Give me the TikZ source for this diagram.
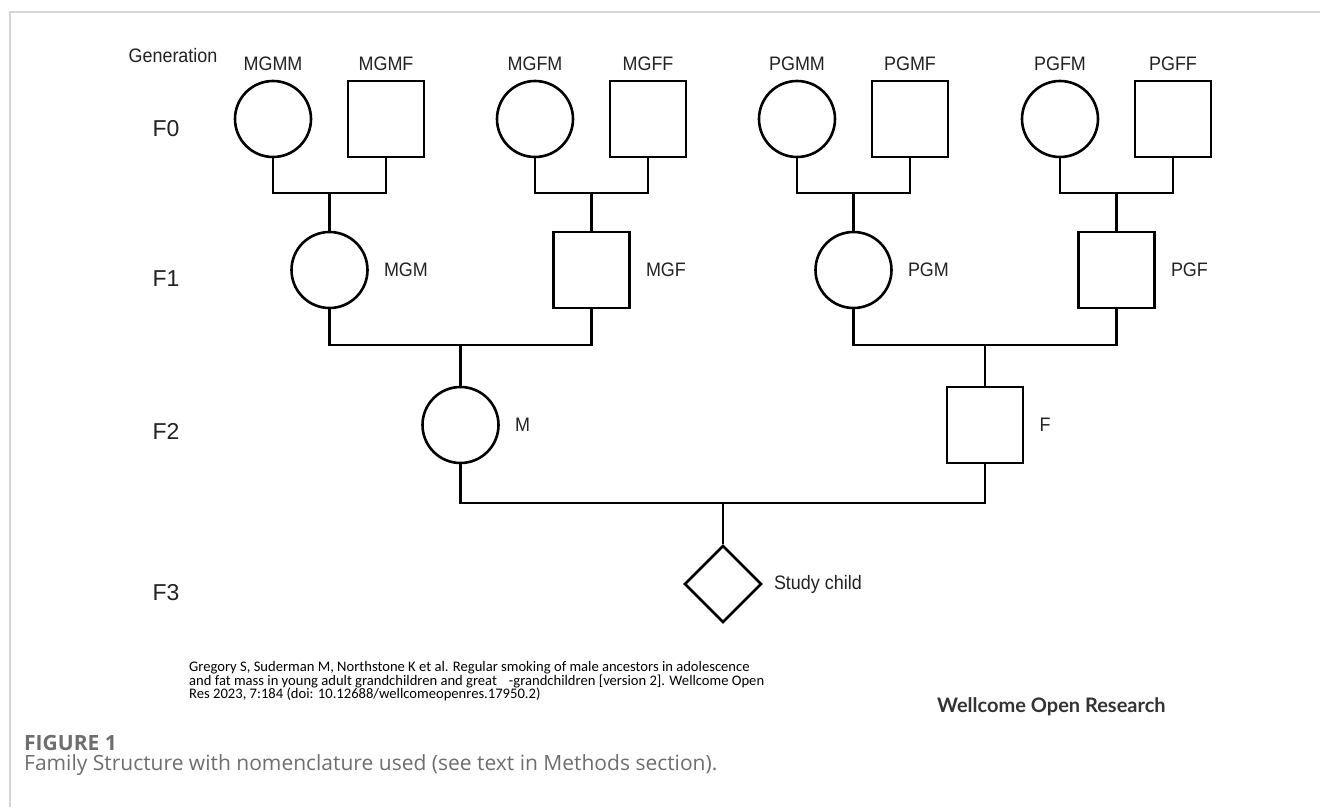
\documentclass[tikz,border=0pt]{standalone}
\usepackage{fontspec}
\setmainfont{Liberation Sans}[FakeStretch=0.92]
\newfontfamily\genfont{Liberation Sans}
\newfontfamily\citefont{Carlito}
\newfontfamily\capfont{Open Sans}
\newfontfamily\brandfont{Lato}
\usetikzlibrary{positioning,shapes.geometric}

\definecolor{framegray}{HTML}{D6D6D6}
\definecolor{capgray}{HTML}{6E6E6E}
\definecolor{brandgray}{HTML}{333333}
\definecolor{inkgray}{HTML}{222222}

\tikzset{
  person/.style={draw,line width=2.6pt,minimum size=76pt,inner sep=0pt},
  female/.style={person,circle},
  male/.style={person,rectangle},
  study/.style={person,diamond,minimum size=77pt},
  tag/.style={font=\fontsize{19.5}{22}\selectfont,text=inkgray,inner sep=0pt},
  genlbl/.style={font=\genfont\fontsize{23}{26}\selectfont,text=inkgray,inner sep=0pt},
  kin/.style={line width=2.6pt},
  citeline/.style={font=\citefont\fontsize{14.6}{14}\selectfont,inner sep=0pt,anchor=base west}
}

\begin{document}
\begin{tikzpicture}[x=1pt,y=1pt]
\useasboundingbox (0,0) rectangle (1320,807);
\draw[framegray,line width=1.6pt] (10,0) -- (10,795) -- (1320,795); % page frame

% generation column
\node[tag,anchor=base] (gen) at (173,744) {Generation};
\foreach \g/\y in {F0/670,F1/520,F2/367,F3/207}
  \node[genlbl,anchor=base] (\g) at (166,\y) {\g};

% F0: the four couples of great-grandparents
\foreach \wife/\husb/\x in {MGMM/MGMF/273,MGFM/MGFF/535,PGMM/PGMF/797,PGFM/PGFF/1060}{
  \node[female] (\wife) at (\x,688) {};
  \node[male] (\husb) at (\x+113,688) {};
  \node[tag,above=9pt of \wife] (\wife-t) {\wife};
  \node[tag,above=9pt of \husb] (\husb-t) {\husb};
  \coordinate (\wife-j) at (\x+56.5,614);
  \draw[kin] (\wife.south) |- (\wife-j) -| (\husb.south);
}

% F1: grandparents
\node[female] (MGM) at (329.5,537) {};
\node[male] (MGF) at (591.5,537) {};
\node[female] (PGM) at (853.5,537) {};
\node[male] (PGF) at (1116.5,537) {};
\foreach \p in {MGM,MGF,PGM,PGF}
  \node[tag,right=15pt of \p] (\p-t) {\p};
\draw[kin] (MGMM-j) -- (MGM.north);
\draw[kin] (MGFM-j) -- (MGF.north);
\draw[kin] (PGMM-j) -- (PGM.north);
\draw[kin] (PGFM-j) -- (PGF.north);

\coordinate (Mj) at (460.5,462);
\coordinate (Fj) at (985,462);
\draw[kin] (MGM.south) |- (Mj) -| (MGF.south);
\draw[kin] (PGM.south) |- (Fj) -| (PGF.south);

% F2: parents
\node[female] (M) at (460.5,382) {};
\node[male] (F) at (985,382) {};
\node[tag,right=15pt of M] (M-t) {M};
\node[tag,right=15pt of F] (F-t) {F};
\draw[kin] (Mj) -- (M.north);
\draw[kin] (Fj) -- (F.north);

\coordinate (Cj) at (723,304);
\draw[kin] (M.south) |- (Cj) -| (F.south);

% F3: the study child
\node[study] (child) at (723,223) {};
\node[tag,right=11pt of child] (child-t) {Study child};
\draw[kin] (Cj) -- (child.north);

% citation and footer
\node[citeline] (cite1) at (189,135.5) {Gregory S, Suderman M, Northstone K et al. Regular smoking of male ancestors in adolescence};
\node[citeline] (cite2) at (189,122) {and fat mass in young adult grandchildren and great\hspace{12pt}-grandchildren [version 2]. Wellcome Open};
\node[citeline] (cite3) at (189,108.5) {Res 2023, 7:184 (doi: 10.12688/wellcomeopenres.17950.2)};
\node[font=\brandfont\bfseries\fontsize{20}{23}\selectfont,text=brandgray,inner sep=0pt,anchor=base west] (brand) at (937,95) {Wellcome Open Research};
\node[font=\capfont\bfseries\fontsize{21}{24}\selectfont,text=capgray,inner sep=0pt,anchor=base west] (fig) at (24,56.5) {FIGURE 1};
\node[font=\capfont\fontsize{21}{24}\selectfont,text=capgray,inner sep=0pt,anchor=base west] (caption) at (24,37) {Family Structure with nomenclature used (see text in Methods section).};
\end{tikzpicture}
\end{document}
